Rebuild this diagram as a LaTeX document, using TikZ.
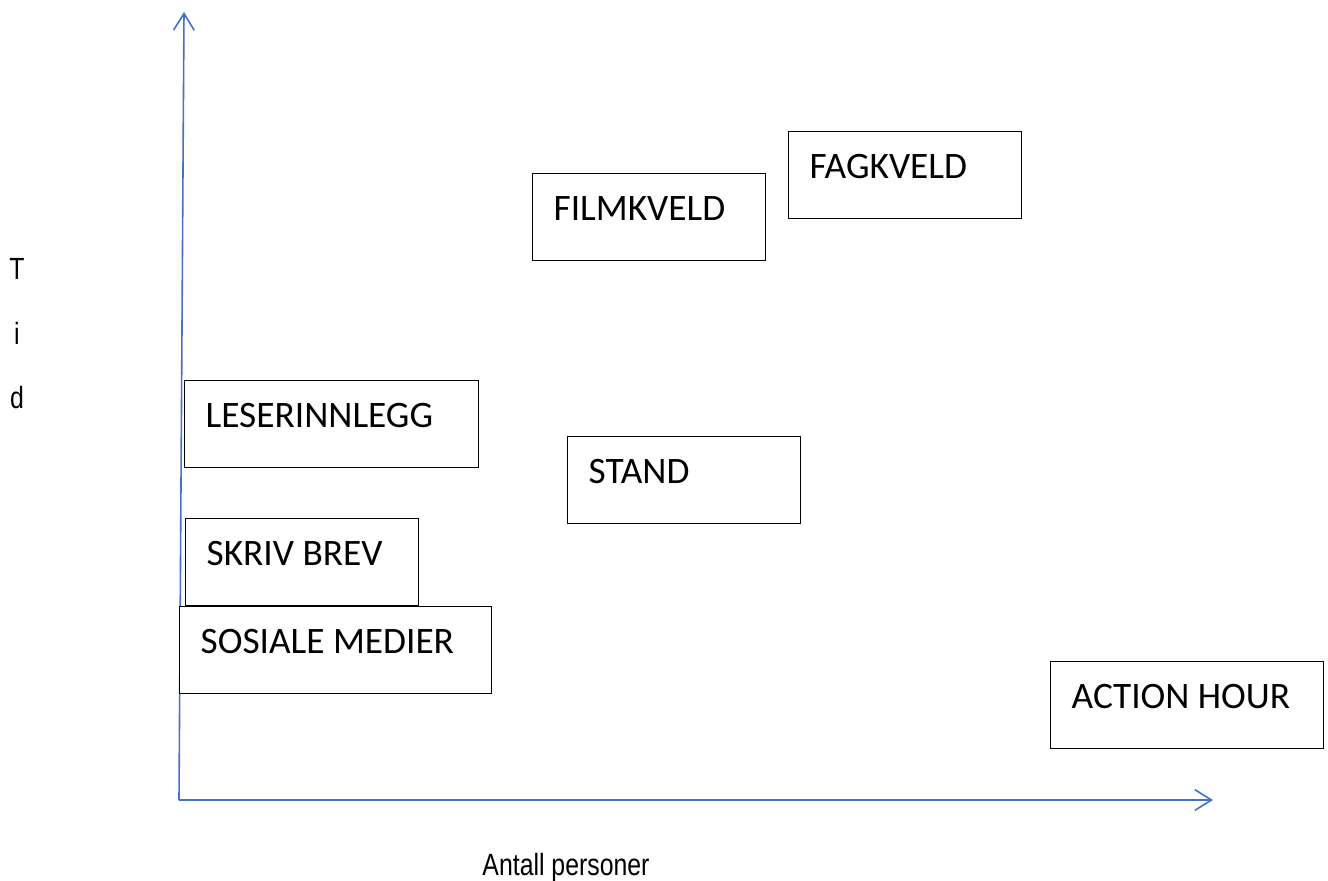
\documentclass[tikz,border=0pt]{standalone}
\usepackage{fontspec}
\setmainfont{Carlito}
\newfontfamily\axisfont[FakeStretch=0.81]{Liberation Sans}
\usetikzlibrary{arrows.meta}
\definecolor{axisblue}{HTML}{4472C4}
\begin{document}
\begin{tikzpicture}[x=0.75pt, y=-0.75pt]
\tikzstyle{box} = [draw=black, line width=1pt, anchor=north west, align=flush left, inner xsep=15.75pt, inner ysep=0pt, text height=34.9pt, text depth=30.35pt, font=\fontsize{28}{30}\selectfont]
\tikzstyle{axis} = [draw=axisblue, line width=1.2pt, -{Straight Barb[length=12.5pt, width=15.5pt, line width=1.2pt]}]
\tikzstyle{axis_label} = [anchor=base, inner sep=0pt, font=\axisfont\fontsize{23}{26}\selectfont]

\useasboundingbox (0,0) rectangle (1328,881);

%axes
\coordinate (origin) at (179,800);
\coordinate (y_top) at (184,12);
\coordinate (x_end) at (1213,800);
\draw[axis] (origin) -- (y_top);
\draw[axis] (origin) -- (x_end);

%axis labels
\foreach \name/\letter/\y in {t/T/279, i/i/344, d/d/408}
	\node[axis_label] (tid_\name) at (17,\y) {\letter};
\node[axis_label] (antall) at (566,875) {Antall personer};

%activities
\foreach \name/\x/\y/\w/\txt in {filmkveld/532/173/233/FILMKVELD, fagkveld/788/131/233/FAGKVELD, leserinnlegg/184/380/294/LESERINNLEGG, stand/567/436/233/STAND, skrivbrev/185/518/233/SKRIV BREV, sosiale/179/606/312/SOSIALE MEDIER, action/1050/661/273/ACTION HOUR} {
	\pgfmathsetmacro{\tw}{(\w-42)*0.75}
	\node[box, text width=\tw pt, fill=white] (\name) at (\x,\y) {\txt};
}
\end{tikzpicture}
\end{document}
